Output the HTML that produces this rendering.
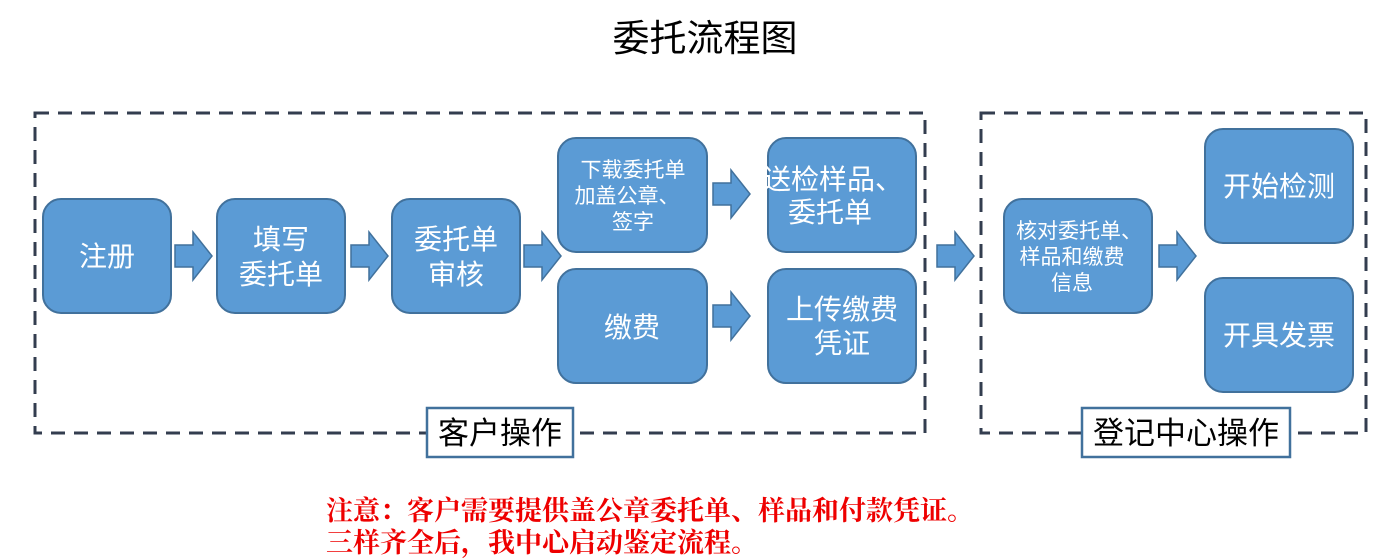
<!DOCTYPE html>
<html><head><meta charset="utf-8"><style>
html,body{margin:0;padding:0;background:#fff;width:1400px;height:559px;overflow:hidden}
svg text{font-family:"Liberation Sans","Noto Sans CJK SC",sans-serif}
.n{fill:#5b9bd5;stroke:#41719c;stroke-width:2}
.t{fill:#fff;font-size:28px;text-anchor:middle}
.s{fill:#fff;font-size:21px;text-anchor:middle}
.a{fill:#5b9bd5;stroke:#41719c;stroke-width:1.5}
.d{fill:none;stroke:#333d4f;stroke-width:3;stroke-dasharray:14 9}
.l{fill:#fff;stroke:#41719c;stroke-width:2.5}
.lt{fill:#000;font-size:31px;text-anchor:middle}
.r{fill:#e00;font-size:27px;font-family:"Liberation Serif","Noto Serif CJK SC",serif;font-weight:bold}
</style></head><body>
<svg width="1400" height="559" xmlns="http://www.w3.org/2000/svg">
<text x="705" y="51" font-size="37" text-anchor="middle" fill="#000">委托流程图</text>
<rect class="d" x="35" y="113" width="890" height="320"/>
<rect class="d" x="981" y="113" width="385" height="320"/>

<rect class="n" x="43" y="199" width="128" height="114" rx="18"/>
<text class="t" x="107" y="266">注册</text>
<rect class="n" x="217" y="199" width="128" height="114" rx="18"/>
<text class="t" x="281" y="249">填写</text><text class="t" x="281" y="284">委托单</text>
<rect class="n" x="392" y="199" width="128" height="114" rx="18"/>
<text class="t" x="456" y="249">委托单</text><text class="t" x="456" y="284">审核</text>
<rect class="n" x="558" y="138" width="149" height="114" rx="18"/>
<text class="s" x="633" y="177">下载委托单</text><text class="s" x="627" y="203">加盖公章、</text><text class="s" x="633" y="229">签字</text>
<rect class="n" x="558" y="269" width="149" height="114" rx="18"/>
<text class="t" x="632" y="337">缴费</text>
<rect class="n" x="768" y="138" width="148" height="114" rx="18"/>
<text class="t" x="833" y="189">送检样品、</text><text class="t" x="830" y="222">委托单</text>
<rect class="n" x="768" y="269" width="148" height="114" rx="18"/>
<text class="t" x="842" y="319">上传缴费</text><text class="t" x="842" y="353">凭证</text>
<rect class="n" x="1004" y="199" width="148" height="114" rx="18"/>
<text class="s" x="1079" y="238">核对委托单、</text><text class="s" x="1072" y="264">样品和缴费</text><text class="s" x="1072" y="290">信息</text>
<rect class="n" x="1205" y="129" width="148" height="114" rx="18"/>
<text class="t" x="1279" y="196">开始检测</text>
<rect class="n" x="1205" y="278" width="148" height="114" rx="18"/>
<text class="t" x="1279" y="345">开具发票</text>

<g class="a">
<polygon points="175,245 193,245 193,232 212,256 193,280 193,267 175,267"/>
<polygon points="351,245 369,245 369,232 388,256 369,280 369,267 351,267"/>
<polygon points="524,245 542,245 542,232 561,256 542,280 542,267 524,267"/>
<polygon points="713,183 731,183 731,170 750,194 731,218 731,205 713,205"/>
<polygon points="713,305 731,305 731,292 750,316 731,340 731,327 713,327"/>
<polygon points="937,245 955,245 955,232 974,256 955,280 955,267 937,267"/>
<polygon points="1159,245 1177,245 1177,232 1196,256 1177,280 1177,267 1159,267"/>
</g>

<rect class="l" x="427" y="408" width="146" height="49"/>
<text class="lt" x="500" y="444">客户操作</text>
<rect class="l" x="1082" y="408" width="208" height="49"/>
<text class="lt" x="1186" y="444">登记中心操作</text>

<text class="r" x="326" y="520">注意：客户需要提供盖公章委托单、样品和付款凭证。</text>
<text class="r" x="326" y="552">三样齐全后，我中心启动鉴定流程。</text>
</svg>
</body></html>
